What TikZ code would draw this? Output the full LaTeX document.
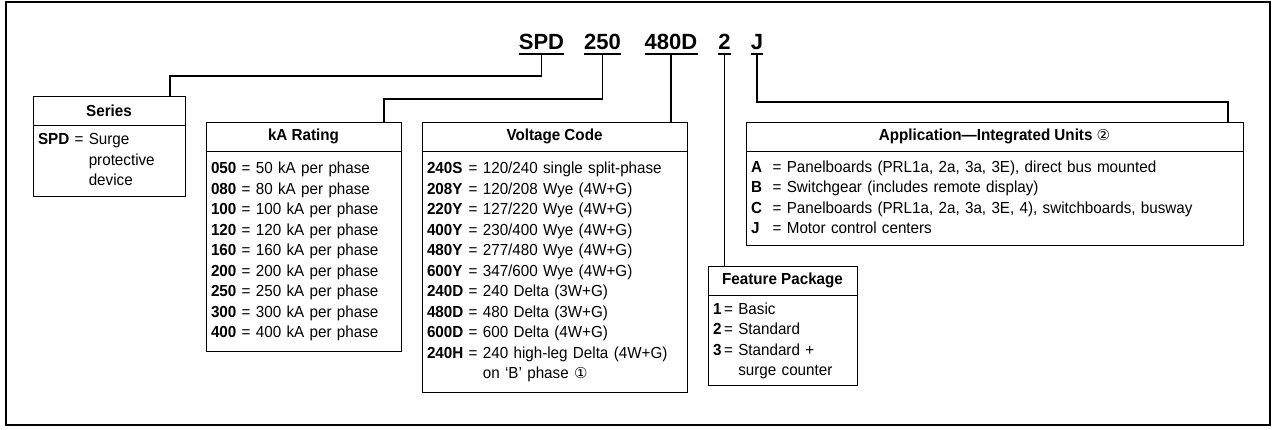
\documentclass[tikz,border=0pt]{standalone}
\usepackage{fontspec}
\setmainfont[FakeStretch=0.95]{Liberation Sans}
\newfontfamily\codefont{Liberation Sans}
\newfontfamily\symfont{DejaVu Sans}
\usetikzlibrary{positioning}
\newcommand{\controw}[1]{\multicolumn{1}{@{}l@{\hphantom{#1}}}{}}

\begin{document}
\begin{tikzpicture}[
    x=1pt, y=-1pt,
    every node/.style={font=\fontsize{16}{20.5}\selectfont},
    code/.style={font=\codefont\fontsize{22}{24}\selectfont\bfseries, anchor=base, inner xsep=0pt, inner ysep=3.5pt},
    headbox/.style={draw, line width=0.9pt, minimum height=29pt, inner sep=0pt, font=\fontsize{16}{20.5}\selectfont\bfseries},
    bodybox/.style={draw, line width=0.9pt, inner xsep=5pt, inner ysep=0pt, align=left},
    link/.style={line width=1.2pt}
]
\useasboundingbox (0,0) rectangle (1272,430);

% Outer frame
\draw[line width=1.5pt] (6,2) rectangle (1270,425);

% Catalog number
\node[code] (codespd) at (541.5,50) {SPD};
\node[code] (codeka) at (602.5,50) {250};
\node[code] (codevolt) at (671,50) {480D};
\node[code] (codefeat) at (724.5,50) {2};
\node[code] (codeapp) at (757,50) {J};
\foreach \c in {codespd,codeka,codevolt,codefeat,codeapp} {
    \draw[line width=2pt] (\c.south west) -- (\c.south east);
}

% Series
\node[headbox, minimum width=152pt] (serieshd) at (109,110.5) {Series};
\node[bodybox, text width=142pt, minimum height=71pt, below=0pt of serieshd] (seriesbd) {%
\begin{tabular}{@{}l@{\ =\ }l@{}}
\textbf{SPD} & Surge\\
\controw{\ =\ } & protective\\
\controw{\ =\ } & device
\end{tabular}};

% kA rating
\node[headbox, minimum width=195pt] (kahd) at (303.5,136.5) {kA Rating};
\node[bodybox, text width=185pt, minimum height=200pt, below=0pt of kahd] (kabd) {%
\begin{tabular}{@{}l@{\ =\ }l@{}}
\textbf{050} & 50 kA per phase\\
\textbf{080} & 80 kA per phase\\
\textbf{100} & 100 kA per phase\\
\textbf{120} & 120 kA per phase\\
\textbf{160} & 160 kA per phase\\
\textbf{200} & 200 kA per phase\\
\textbf{250} & 250 kA per phase\\
\textbf{300} & 300 kA per phase\\
\textbf{400} & 400 kA per phase
\end{tabular}};

% Voltage code
\node[headbox, minimum width=265pt] (volthd) at (554.5,136.5) {Voltage Code};
\node[bodybox, text width=255pt, minimum height=241pt, below=0pt of volthd] (voltbd) {%
\begin{tabular}{@{}l@{\ =\ }l@{}}
\textbf{240S} & 120/240 single split-phase\\
\textbf{208Y} & 120/208 Wye (4W+G)\\
\textbf{220Y} & 127/220 Wye (4W+G)\\
\textbf{400Y} & 230/400 Wye (4W+G)\\
\textbf{480Y} & 277/480 Wye (4W+G)\\
\textbf{600Y} & 347/600 Wye (4W+G)\\
\textbf{240D} & 240 Delta (3W+G)\\
\textbf{480D} & 480 Delta (3W+G)\\
\textbf{600D} & 600 Delta (4W+G)\\
\textbf{240H} & 240 high-leg Delta (4W+G)\\
\controw{\ =\ } & on `B' phase {\symfont\fontsize{15}{20.5}\selectfont ①}
\end{tabular}};

% Feature package
\node[headbox, minimum width=149pt] (feathd) at (782.5,280.5) {Feature Package};
\node[bodybox, text width=139pt, minimum height=90pt, below=0pt of feathd] (featbd) {%
\begin{tabular}{@{}l@{\,=\ }l@{}}
\textbf{1} & Basic\\
\textbf{2} & Standard\\
\textbf{3} & Standard +\\
\controw{\,=\ } & surge counter
\end{tabular}};

% Application
\node[headbox, minimum width=497pt] (apphd) at (994.5,136.5) {Application---Integrated Units {\symfont\fontsize{15}{20.5}\selectfont\mdseries ②}};
\node[bodybox, text width=487pt, minimum height=94pt, below=0pt of apphd] (appbd) {%
\begin{tabular}{@{}l@{\ \ =\ }l@{}}
\textbf{A} & Panelboards (PRL1a, 2a, 3a, 3E), direct bus mounted\\
\textbf{B} & Switchgear (includes remote display)\\
\textbf{C} & Panelboards (PRL1a, 2a, 3a, 3E, 4), switchboards, busway\\
\textbf{J} & Motor control centers
\end{tabular}};

% Connectors
\coordinate (spdbend) at (170,76);
\draw[link] (codespd.south) |- (spdbend) -- (spdbend |- serieshd.north);
\coordinate (kabend) at (384,99);
\draw[link] (codeka.south) |- (kabend) -- (kabend |- kahd.north);
\draw[link] (codevolt.south) -- (codevolt.south |- volthd.north);
\draw[link] (codefeat.south) -- (codefeat.south |- feathd.north);
\coordinate (appbend) at (1228,102);
\draw[link] (codeapp.south) |- (appbend) -- (appbend |- apphd.north);

\end{tikzpicture}
\end{document}
